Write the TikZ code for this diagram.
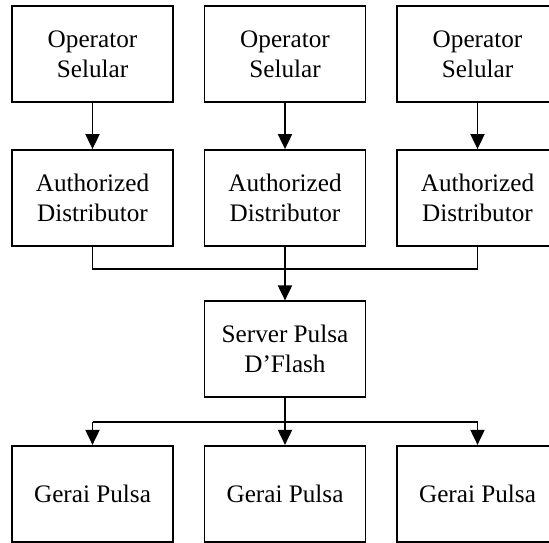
\documentclass[tikz,border=0pt]{standalone}
\usepackage{fontspec}
\setmainfont{Liberation Serif}
\usetikzlibrary{arrows.meta}
\begin{document}
\begin{tikzpicture}[x=1pt,y=-1pt,
  box/.style={draw, line width=1.9pt, minimum width=161pt, minimum height=95.7pt,
    inner sep=0pt, align=center, font=\fontsize{25.2}{30}\selectfont},
  link/.style={line width=1.9pt},
  arr/.style={link, -{Triangle[width=14pt,length=15pt]}}]
\useasboundingbox (0,0) rectangle (549,543);
\clip (0,0) rectangle (549,543);
% operators
\node[box] (op1) at (92.5,53.8) {Operator\\Selular};
\node[box] (op2) at (285,53.8) {Operator\\Selular};
\node[box] (op3) at (477.5,53.8) {Operator\\Selular};
% distributors
\node[box] (ad1) at (92.5,197.9) {Authorized\\Distributor};
\node[box] (ad2) at (285,197.9) {Authorized\\Distributor};
\node[box] (ad3) at (477.5,197.9) {Authorized\\Distributor};
% server
\node[box] (srv) at (285,349.2) {Server Pulsa\\D’Flash};
% outlets
\node[box] (gp1) at (92.5,493.7) {Gerai Pulsa};
\node[box] (gp2) at (285,493.7) {Gerai Pulsa};
\node[box] (gp3) at (477.5,493.7) {Gerai Pulsa};
% operator -> distributor
\draw[arr] (op1) -- (ad1);
\draw[arr] (op2) -- (ad2);
\draw[arr] (op3) -- (ad3);
% distributors merge into server
\coordinate (mL) at (92.5,269);
\coordinate (mR) at (477.5,269);
\draw[link] (ad1.south) -- (mL) -- (mR) -- (ad3.south);
\draw[arr] (ad2) -- (srv);
% server splits to outlets
\coordinate (sL) at (92.5,421.7);
\coordinate (sM) at (285,421.7);
\coordinate (sR) at (477.5,421.7);
\draw[link] (srv.south) -- (sM);
\draw[link] (sL) -- (sR);
\draw[arr] (sL) -- (gp1.north);
\draw[arr] (sM) -- (gp2.north);
\draw[arr] (sR) -- (gp3.north);
\end{tikzpicture}
\end{document}
